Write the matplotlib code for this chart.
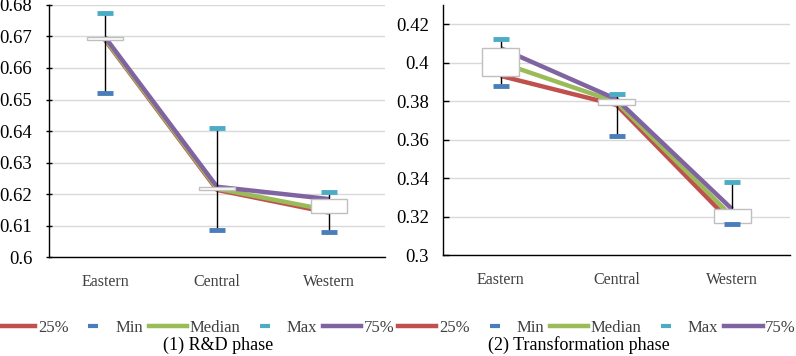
import matplotlib
matplotlib.use("Agg")
import matplotlib.pyplot as plt
from matplotlib.lines import Line2D
import numpy as np

plt.rcParams['font.family'] = ['Liberation Serif', 'DejaVu Serif']

regions = ["Eastern", "Central", "Western"]

# (1) R&D phase
rd_q25 = [0.6689, 0.6213, 0.6141]
rd_min = [0.6521, 0.6085, 0.6079]
rd_med = [0.6692, 0.6217, 0.6148]
rd_max = [0.6773, 0.6409, 0.6206]
rd_q75 = [0.6698, 0.6223, 0.6184]

# (2) Transformation phase
tr_q25 = [0.3931, 0.3780, 0.3165]
tr_min = [0.3879, 0.3617, 0.3160]
tr_med = [0.4000, 0.3795, 0.3200]
tr_max = [0.4124, 0.3836, 0.3380]
tr_q75 = [0.4075, 0.3810, 0.3238]

C_Q25 = '#C0504D'
C_MIN = '#4A7EBB'
C_MED = '#9BBB59'
C_MAX = '#4BACC6'
C_Q75 = '#8064A2'


def draw_panel(ax, q25, mn, med, mx, q75, ylim, yticks, tickdir):
    x = np.arange(len(regions))
    ax.plot(x, q25, color=C_Q25, lw=3.2, zorder=2, solid_capstyle='butt')
    ax.plot(x, med, color=C_MED, lw=3.2, zorder=2.1, solid_capstyle='butt')
    ax.plot(x, q75, color=C_Q75, lw=3.2, zorder=2.2, solid_capstyle='butt')
    # high-low lines
    ax.vlines(x, mn, mx, color='black', lw=1, zorder=3)
    # up-down bars
    lo = np.minimum(q25, q75)
    hi = np.maximum(q25, q75)
    ax.bar(x, hi - lo, bottom=lo, width=0.32, color='white',
           edgecolor='#BFBFBF', lw=1, zorder=4)
    ax.plot(x, mn, ls='none', marker='_', ms=12, mew=3.5, color=C_MIN, zorder=5)
    ax.plot(x, mx, ls='none', marker='_', ms=12, mew=3.5, color=C_MAX, zorder=5)

    ax.set_xlim(-0.5, 2.5)
    ax.set_ylim(*ylim)
    ax.set_yticks(yticks)
    ax.set_yticklabels(['%g' % round(t, 3) for t in yticks], fontsize=13.5)
    ax.set_xticks(x)
    ax.set_xticklabels(regions, fontsize=11.5, color='#404040')
    ax.tick_params(axis='x', length=0, pad=12)
    ax.tick_params(axis='y', direction=tickdir, length=4, width=1, pad=10)
    ax.grid(axis='y', color='#D9D9D9', lw=1)
    ax.set_axisbelow(True)
    for s in ['top', 'right']:
        ax.spines[s].set_visible(False)
    for s in ['left', 'bottom']:
        ax.spines[s].set_color('black')
        ax.spines[s].set_linewidth(1)


fig = plt.figure(figsize=(7.96, 3.56), dpi=100)
ax1 = fig.add_axes([0.0616, 0.278, 0.4221, 0.708])
ax2 = fig.add_axes([0.5565, 0.2837, 0.436, 0.7023])

draw_panel(ax1, rd_q25, rd_min, rd_med, rd_max, rd_q75,
           (0.6, 0.68), np.arange(0.60, 0.6801, 0.01), 'inout')
draw_panel(ax2, tr_q25, tr_min, tr_med, tr_max, tr_q75,
           (0.3, 0.43), np.arange(0.30, 0.4201, 0.02), 'in')

handles = [
    Line2D([], [], color=C_Q25, lw=3.2),
    Line2D([], [], color=C_MIN, ls='none', marker='_', ms=7, mew=3),
    Line2D([], [], color=C_MED, lw=3.2),
    Line2D([], [], color=C_MAX, ls='none', marker='_', ms=7, mew=3),
    Line2D([], [], color=C_Q75, lw=3.2),
]
labels = ['25%', 'Min', 'Median', 'Max', '75%']

for cx in [0.246, 0.75]:
    fig.legend(handles, labels, loc='center', bbox_to_anchor=(cx, 0.079),
               ncol=5, frameon=False, fontsize=12, handlelength=2.3,
               handletextpad=0.15, columnspacing=0.35, borderpad=0,
               borderaxespad=0, labelcolor='#404040')

fig.text(0.274, 0.03, '(1) R&D phase', ha='center', va='center', fontsize=13)
fig.text(0.727, 0.03, '(2) Transformation phase', ha='center', va='center',
         fontsize=13)

fig.savefig('out.png', dpi=100)
